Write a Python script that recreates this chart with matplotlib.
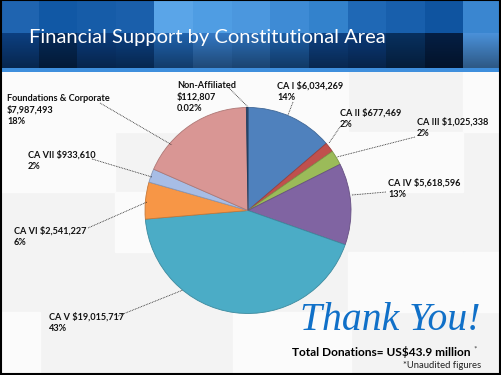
import matplotlib
matplotlib.use("Agg")
import matplotlib.pyplot as plt
import numpy as np
from matplotlib.patches import Rectangle

W, H = 502, 375

# --- data (clockwise from 12 o'clock) ---
areas = ["CA I", "CA II", "CA III", "CA IV", "CA V", "CA VI", "CA VII",
         "Foundations & Corporate", "Non-Affiliated"]
amounts = [6034269, 677469, 1025338, 5618596, 19015717, 2541227, 933610, 7987493, 112807]
pct_labels = ["14%", "2%", "2%", "13%", "43%", "6%", "2%", "18%", "0.02%"]
label_texts = ["CA I $6,034,269\n14%", "CA II $677,469\n2%", "CA III $1,025,338\n2%",
               "CA IV $5,618,596\n13%", "CA V $19,015,717\n43%", "CA VI $2,541,227\n6%",
               "CA VII $933,610\n2%", "Foundations & Corporate\n$7,987,493\n18%",
               "Non-Affiliated\n$112,807\n0.02%"]
colors = ["#4f81bd", "#c0504d", "#9bbb59", "#8064a2", "#4bacc6", "#f79646",
          "#a7bde6", "#d99694", "#2c4d75"]

# label text anchor (top-left, px) and leader line (px) per slice
label_pos = [(277, 81), (340, 108), (417, 117), (388, 178), (49, 312), (14, 226),
             (28, 150), (7, 94), (177, 81)]
leaders = [((293, 102), (288, 115)), ((340, 127), (329, 143)), ((415, 137), (337, 157)),
           ((386, 192), (352, 195)), ((118, 316), (183, 290)), ((88, 228), (147, 202)),
           ((92, 159), (152, 177)), ((100, 103), (172, 145)), ((229, 88), (248, 107))]

# header mosaic colours
top_row = ["#1f64b0", "#1158a5", "#165ca8", "#1a5fab", "#5aa5e8", "#4f9de3", "#4b97de",
           "#3e8bd5", "#3382cc", "#1f68b5", "#185fac", "#0f54a0", "#3a86d0"]
bot_row = ["#0c3f80", "#062a58", "#0b3c7c", "#0c4081", "#1f62ad", "#3377c2", "#2c6fb8",
           "#1d5ea6", "#0e4182", "#0b3a78", "#08305f", "#051f44", "#4a90d8"]


def py(y):
    return H - y


fig = plt.figure(figsize=(W / 100, H / 100), dpi=100)
ax = fig.add_axes([0, 0, 1, 1])
ax.set_xlim(0, W); ax.set_ylim(0, H)
ax.set_aspect("equal"); ax.axis("off")

# slide background: light grey mosaic
ax.add_patch(Rectangle((0, 0), W, H, color="#f3f3f3", zorder=0))
light = [(0, 72, 115, 60), (115, 72, 118, 60), (233, 72, 115, 60), (233, 132, 118, 60),
         (348, 132, 115, 60), (0, 132, 115, 60), (115, 192, 118, 60), (348, 252, 115, 60),
         (0, 312, 40, 63), (233, 312, 118, 63), (463, 72, 39, 60), (463, 252, 39, 60)]
for x0, y0, w, h in light:
    ax.add_patch(Rectangle((x0, py(y0 + h)), w, h, color="#fbfbfb", zorder=0))

# header banner
cw = W / 13
for i, (ct, cb) in enumerate(zip(top_row, bot_row)):
    ax.add_patch(Rectangle((i * cw, py(33)), cw + 0.5, 33, color=ct, zorder=1, lw=0))
    rgb = np.array(matplotlib.colors.to_rgb(cb))
    grad = np.linspace(1.0, 0.62, 20)
    img = (rgb[None, None, :] * grad[:, None, None]).clip(0, 1)
    ax.imshow(img, extent=(i * cw, (i + 1) * cw + 0.5, py(68), py(33)),
              aspect="auto", zorder=1, interpolation="bilinear")
ax.add_patch(Rectangle((0, py(72)), W, 4, color="#3f8fdd", zorder=1, lw=0))
ax.text(29, py(37), "Financial Support by Constitutional Area", color="white",
        fontsize=14.5, family="Lato", va="center", ha="left", zorder=3)

# pie
wedges, _ = ax.pie(amounts, colors=colors, startangle=90, counterclock=False,
                   center=(248, py(210.5)), radius=103, frame=True,
                   wedgeprops=dict(edgecolor="#ffffff", linewidth=0.6))
for wdg, c in zip(wedges, colors):
    wdg.set_zorder(4)
    rgb = np.array(matplotlib.colors.to_rgb(c))
    wdg.set_edgecolor(tuple(rgb * 0.8))
ax.set_xlim(0, W); ax.set_ylim(0, H); ax.axis("off")

for txt, (lx, ly), (p0, p1) in zip(label_texts, label_pos, leaders):
    ax.text(lx, py(ly), txt, fontsize=6.6, family="Lato", weight="bold", color="#111111",
            va="top", ha="left", linespacing=1.32, zorder=5)
    ax.plot([p0[0], p1[0]], [py(p0[1]), py(p1[1])], color="#222222", lw=0.6,
            ls=(0, (1, 1)), zorder=5)

ax.text(481, py(320), "Thank You!", color="#1070c8", fontsize=28.5, style="italic",
        family="Liberation Serif", ha="right", va="center", zorder=5)
ax.text(471, py(352), "Total Donations= US$43.9 million", fontsize=8.6, weight="bold",
        family="Lato", ha="right", va="center", zorder=5)
ax.text(473, py(349), "*", fontsize=6, family="Lato", color="#444444",
        ha="left", va="center", zorder=5)
ax.text(481, py(366), "*Unaudited figures", fontsize=6.8, family="Lato",
        color="#222222", ha="right", va="center", zorder=5)

# slide border
ax.add_patch(Rectangle((1, 1.5), W - 2.5, H - 1.5, fill=False, ec="black", lw=1.5, zorder=6))

fig.savefig("out.png", dpi=100)
